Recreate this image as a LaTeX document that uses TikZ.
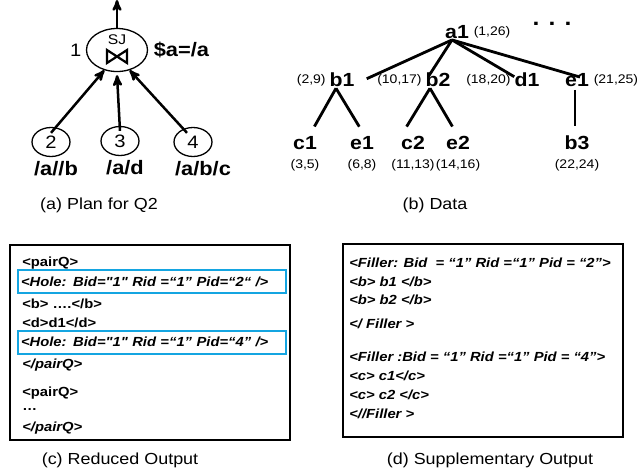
\documentclass[tikz,border=0pt]{standalone}
\usepackage{fontspec}
\setmainfont{Liberation Sans}[FakeStretch=1.12]
\newfontfamily\xmlfont{Liberation Sans}[FakeStretch=1.12]
\usepackage{tikz}
\usetikzlibrary{arrows}
\usetikzlibrary{shapes.geometric}
\definecolor{holeblue}{RGB}{20,165,225}

\begin{document}
\begin{tikzpicture}[x=1pt,y=-1pt,>=stealth',semithick]
      \tikzstyle{op}=[ellipse,draw=black,line width=1.3pt,minimum width=61pt,minimum height=43pt,inner sep=0pt]
      \tikzstyle{leafop}=[ellipse,draw=black,line width=1.3pt,minimum width=38pt,minimum height=29pt,inner sep=0pt,font=\fontsize{18}{18}\selectfont]
      \tikzstyle{path}=[font=\fontsize{19.5}{19.5}\bfseries\selectfont]
      \tikzstyle{elem}=[inner sep=0pt,font=\fontsize{19}{19}\bfseries\selectfont,label distance=2pt]
      \tikzstyle{reg}=[font=\fontsize{12.5}{12.5}\selectfont]
      \tikzstyle{caption}=[font=\fontsize{16}{16}\selectfont]
      \tikzstyle{xml}=[anchor=west,inner sep=0pt,font=\xmlfont\fontsize{13.2}{13.2}\bfseries\selectfont]
      \tikzstyle{xmlit}=[xml,font=\xmlfont\fontsize{13.2}{13.2}\bfseries\itshape\selectfont]
      \tikzstyle{hole}=[anchor=west,draw=holeblue,line width=2pt,minimum width=268pt,minimum height=23pt,text width=262pt,inner sep=3pt,font=\xmlfont\fontsize{13.2}{13.2}\bfseries\itshape\selectfont]
      \tikzstyle{edge}=[line width=2.8pt]
      \useasboundingbox (0,0) rectangle (637,475);
      % (a) plan
      \node [op,label={[font=\fontsize{18}{18}\selectfont,label distance=1pt]left:1},label={[path,label distance=2pt]right:\$a=/a}] (sj) at (117,50) {};
      \node [font=\fontsize{14}{14}\selectfont] (sjname) at (117,40) {SJ};
      \draw [line width=2.2pt,line join=miter] (107,50) -- (107,63) -- (127,50) -- (127,63) -- cycle;
      \coordinate (out) at (117,0);
      \node [leafop,label={[path,label distance=1pt,xshift=5pt]below:/a//b}] (p2) at (51,142) {2};
      \node [leafop,label={[path,label distance=1pt,xshift=5pt]below:/a/d}] (p3) at (120,141) {3};
      \node [leafop,label={[path,label distance=1pt,xshift=10pt]below:/a/b/c}] (p4) at (193,142) {4};
      \draw [->,line width=2.5pt] (sj.north) -- (out);
      \draw [->,line width=2.5pt] ([yshift=-6pt]p2.north) -- (sj.-122);
      \draw [->,line width=2.5pt] ([yshift=-5pt]p3.north) -- ([yshift=-3pt]sj.south);
      \draw [->,line width=2.5pt] ([yshift=-6pt,xshift=-6pt]p4.north) -- (sj.-58);
      \node [caption] (capa) at (99,205) {(a) Plan for Q2};
      % (b) data
      \node [elem,label={[reg,label distance=1pt]right:(1,26)}] (a1) at (457,32) {a1};
      \node [elem,font=\fontsize{22}{22}\bfseries\selectfont] (more) at (552,24) {. . .};
      \node [elem,label={[reg]left:(2,9)}] (b1) at (342,80) {b1};
      \node [elem,label={[reg]left:(10,17)}] (b2) at (438,80) {b2};
      \node [elem,label={[reg]left:(18,20)}] (d1) at (527,80) {d1};
      \node [elem,label={[reg,label distance=1pt]right:(21,25)}] (e1) at (577,80) {e1};
      \node [elem,label={[reg,label distance=6pt]below:(3,5)}] (c1) at (305,143) {c1};
      \node [elem,label={[reg,label distance=6pt]below:(6,8)}] (e1b) at (362,143) {e1};
      \node [elem,label={[reg,label distance=6pt]below:(11,13)}] (c2) at (413,143) {c2};
      \node [elem,label={[reg,label distance=6pt]below:(14,16)}] (e2) at (458,143) {e2};
      \node [elem,label={[reg,label distance=6pt]below:(22,24)}] (b3) at (577,143) {b3};
      \draw [edge] ([xshift=-5pt,yshift=-1pt]a1.south) -- ([xshift=12pt,yshift=-6pt]b1.north east);
      \draw [edge] ([xshift=-5pt,yshift=-1pt]a1.south) -- ([xshift=3pt,yshift=-4pt]b2.north west);
      \draw [edge] ([xshift=-5pt,yshift=-1pt]a1.south) -- ([yshift=-4pt]d1.north west);
      \draw [edge] ([xshift=-5pt,yshift=-1pt]a1.south) -- ([xshift=3pt,yshift=-4pt]e1.north);
      \draw [edge,shorten >=11pt] ([xshift=-6pt,yshift=-1pt]b1.south) -- ([xshift=4pt]c1.north);
      \draw [edge,shorten >=11pt] ([xshift=-6pt,yshift=-1pt]b1.south) -- ([xshift=3pt]e1b.north);
      \draw [edge,shorten >=11pt] ([xshift=-8pt,yshift=-1pt]b2.south) -- (c2.north west);
      \draw [edge,shorten >=11pt] ([xshift=-8pt,yshift=-1pt]b2.south) -- (e2.north);
      \draw [edge,shorten >=10pt,shorten <=3pt] ([xshift=-2pt]e1.south) -- ([xshift=-2pt]b3.north);
      \node [caption] (capb) at (435,205) {(b) Data};
      % (c) reduced output
      \draw [line width=2pt] (10,245) rectangle (290,440);
      \node [xml] (r1) at (22,263) {<pairQ>};
      \node [hole] (h1) at (17,281.5) {<Hole: Bid="1" Rid =“1” Pid=“2“ />};
      \node [xml] (r3) at (22,304) {<b> ….</b>};
      \node [xml] (r4) at (22,323) {<d>d1</d>};
      \node [hole] (h2) at (17,342) {<Hole: Bid="1" Rid =“1” Pid=“4” />};
      \node [xmlit] (r6) at (22,365) {</pairQ>};
      \node [xml] (r7) at (22,393) {<pairQ>};
      \node [xml] (r8) at (22,410) {…};
      \node [xmlit] (r9) at (22,428) {</pairQ>};
      \node [caption] (capc) at (120,460) {(c) Reduced Output};
      % (d) supplementary output
      \draw [line width=2pt] (343,244) rectangle (623,437);
      \node [xmlit] (f1) at (349,263) {<Filler: Bid \ = “1” Rid =“1” Pid = “2”>};
      \node [xmlit] (f2) at (349,282) {<b> b1 </b>};
      \node [xmlit] (f3) at (349,300) {<b> b2 </b>};
      \node [xmlit] (f4) at (349,324) {</ Filler >};
      \node [xmlit] (f5) at (349,357) {<Filler :Bid = “1” Rid =“1” Pid = “4”>};
      \node [xmlit] (f6) at (349,376) {<c> c1</c>};
      \node [xmlit] (f7) at (349,395) {<c> c2 </c>};
      \node [xmlit] (f8) at (349,414) {<//Filler >};
      \node [caption] (capd) at (490,460) {(d) Supplementary Output};
\end{tikzpicture}
\end{document}
